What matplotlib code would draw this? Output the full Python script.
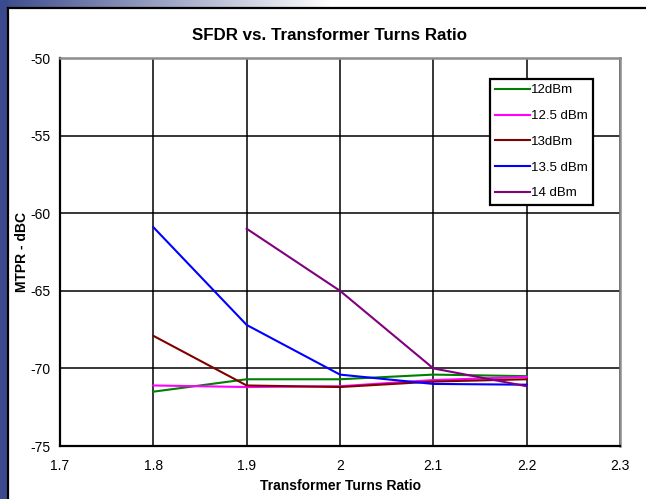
import numpy as np
import matplotlib.pyplot as plt
from matplotlib.patches import Rectangle

plt.rcParams['font.family'] = ['Liberation Sans', 'DejaVu Sans']
plt.rcParams['axes.unicode_minus'] = False

# data
ratio = [1.8, 1.9, 2.0, 2.1, 2.2]
mtpr_12 = [-71.5, -70.7, -70.7, -70.4, -70.5]
mtpr_12_5 = [-71.1, -71.2, -71.15, -70.75, -70.55]
mtpr_13 = [-67.9, -71.1, -71.2, -70.85, -70.7]
mtpr_13_5 = [-60.9, -67.2, -70.4, -71.0, -71.05]
ratio_14 = [1.9, 2.0, 2.1, 2.2]
mtpr_14 = [-61.0, -65.0, -70.0, -71.15]

labels = ['12dBm', '12.5 dBm', '13dBm', '13.5 dBm', '14 dBm']
colors = ['#008000', '#ff00ff', '#800000', '#0000ff', '#800080']

W, H = 646, 499
fig = plt.figure(figsize=(W / 100, H / 100), dpi=100, facecolor='white')

# frame: blue band on the left, fading band on top, black inner border
bg = fig.add_axes([0, 0, 1, 1], zorder=-10)
bg.set_xlim(0, W)
bg.set_ylim(H, 0)
bg.axis('off')
px = np.arange(W)
t = np.clip(px / 330, 0, 1)
blue = np.array([0x3b, 0x4a, 0x8c]) / 255
cols = blue[None, :] * (1 - t[:, None]) + t[:, None]
bg.imshow(cols[None, :, :], extent=(0, W, 7, 0), aspect='auto')
bg.add_patch(Rectangle((0, 0), 7.5, H, color='#3b4a8c', lw=0))
bg.plot([8, 8], [8, H], color='black', lw=1.6)
bg.plot([8, W], [8, 8], color='black', lw=1.6)

ax = fig.add_axes([60 / W, (H - 446) / H, 560 / W, 388 / H])
series = [(ratio, mtpr_12), (ratio, mtpr_12_5), (ratio, mtpr_13),
          (ratio, mtpr_13_5), (ratio_14, mtpr_14)]
for (x, y), c, lab in zip(series, colors, labels):
    ax.plot(x, y, color=c, lw=1.5, label=lab, zorder=3)

ax.set_xlim(1.7, 2.3)
ax.set_ylim(-75, -50)
ax.set_xticks([1.7, 1.8, 1.9, 2.0, 2.1, 2.2, 2.3])
ax.set_xticklabels(['1.7', '1.8', '1.9', '2', '2.1', '2.2', '2.3'])
ax.set_yticks([-75, -70, -65, -60, -55, -50])
ax.grid(True, color='black', lw=1.1)
ax.tick_params(length=0, labelsize=10)
ax.tick_params(axis='x', pad=9)
ax.tick_params(axis='y', pad=7)
for s in ['left', 'bottom']:
    ax.spines[s].set_color('black')
    ax.spines[s].set_linewidth(1.6)
for s in ['top', 'right']:
    ax.spines[s].set_color('#8c8c8c')
    ax.spines[s].set_linewidth(1.8)

ax.set_xlabel('Transformer Turns Ratio', fontsize=10, fontweight='bold', labelpad=5)
ax.set_ylabel('MTPR - dBC', fontsize=10, fontweight='bold', va='center')
ax.yaxis.set_label_coords((22 - 60) / 560, 0.5)
fig.text(329 / W, 1 - 35 / H, 'SFDR vs. Transformer Turns Ratio',
         ha='center', va='center', fontsize=12.2, fontweight='bold')

leg = ax.legend(loc='upper right', bbox_to_anchor=(0.952, 0.946), borderaxespad=0,
                fontsize=9.5, frameon=True, fancybox=False, handlelength=2.6,
                handletextpad=0.1, labelspacing=1.02, borderpad=0.4)
leg.get_frame().set_edgecolor('black')
leg.get_frame().set_linewidth(1.6)
leg.get_frame().set_alpha(1)

fig.savefig('out.png', dpi=100, facecolor='white')
